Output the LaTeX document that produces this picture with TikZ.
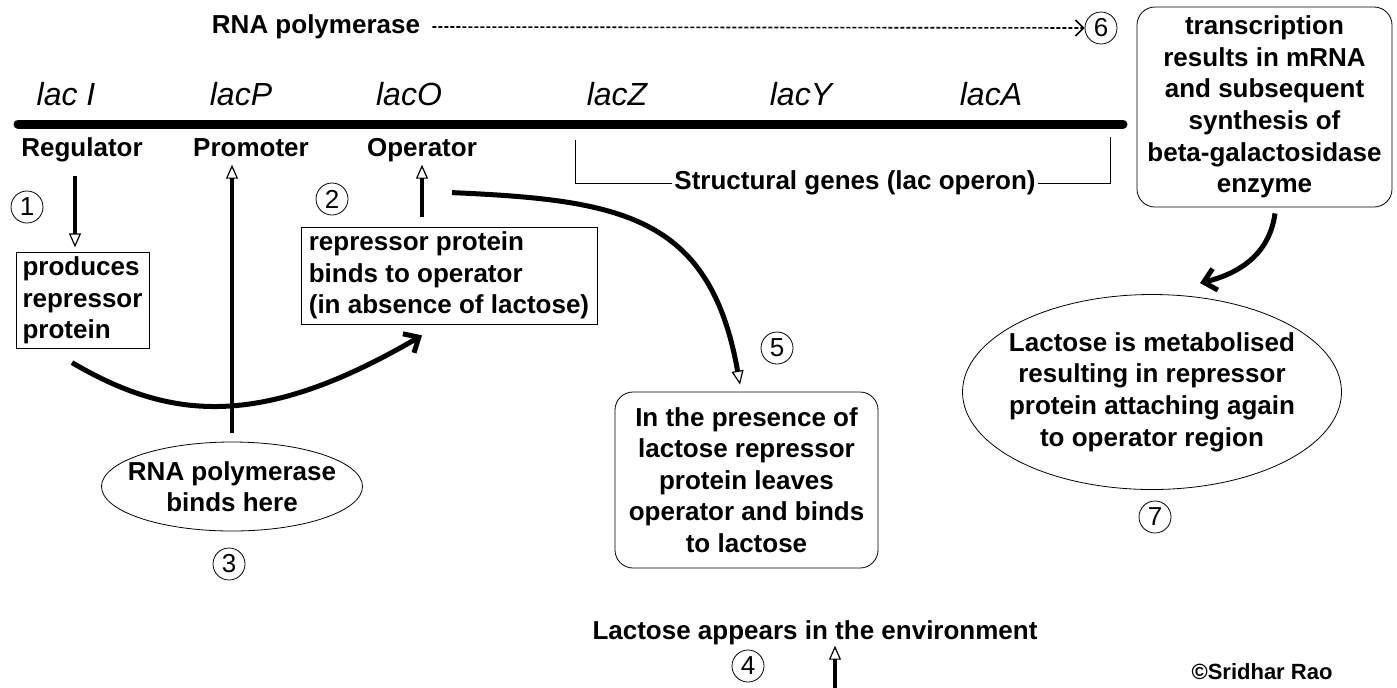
\documentclass[tikz,border=0pt]{standalone}
\usepackage{fontspec}
\setmainfont{Liberation Sans}
\usetikzlibrary{arrows.meta,shapes.geometric,positioning,calc}

\tikzset{
  num/.style={draw, circle, thin, inner sep=0pt, minimum size=16pt, font=\mdseries\fontsize{13}{13}\selectfont},
  gene/.style={font=\mdseries\itshape\fontsize{16}{16}\selectfont},
  label/.style={inner sep=1pt, text height=9.5pt, text depth=2.8pt},
  sqbox/.style={draw, thin, rectangle, align=left, inner sep=2pt},
  rbox/.style={draw, thin, rounded corners=9pt, align=center, inner sep=2pt},
  oval/.style={draw, thin, ellipse, align=center, inner ysep=0pt},
  uparrow/.style={line width=2pt, -{Triangle[open, line width=0.6pt, length=7pt, width=6pt]}},
  bentarrow/.style={line width=2.5pt, -{Straight Barb[length=6pt, width=11pt]}}
}

\begin{document}
\begin{tikzpicture}[x=0.5pt, y=-0.5pt, font=\bfseries\fontsize{13}{15.8}\selectfont]
    \useasboundingbox (0,0) rectangle (1397,687);

    \node[label] (rnaptext) at (316,27) {RNA polymerase};
    \node[num] (n6) at (1101,28) {6};
    \draw[line width=0.8pt, dash pattern=on 2pt off 1pt, -{Straight Barb[length=4pt, width=8pt]}] ($(rnaptext.east)+(10,0)$) -- (n6.west);

    \draw[line width=4.5pt, line cap=round] (18,124) -- (1123,124);

    \node[gene] (laci) at (66,94) {lac I};
    \node[gene] (lacp) at (241,94) {lacP};
    \node[gene] (laco) at (409,94) {lacO};
    \node[gene] (lacz) at (617,94) {lacZ};
    \node[gene] (lacy) at (801,94) {lacY};
    \node[gene] (laca) at (991,94) {lacA};

    \node[label] (reg) at (82,150) {Regulator};
    \node[label] (prom) at (251,150) {Promoter};
    \node[label] (op) at (422,150) {Operator};
    \node[label] (struct) at (855,183) {Structural genes (lac operon)};
    \draw (575,140) |- (struct.west);
    \draw (struct.east) -| (1110,137);

    \node[num] (n1) at (27,207) {1};
    \node[num] (n2) at (332,199) {2};
    \node[num] (n3) at (229,564) {3};
    \node[num] (n4) at (748,666) {4};
    \node[num] (n5) at (777,348) {5};
    \node[num] (n7) at (1155,517) {7};

    \node[sqbox, minimum width=66.5pt, minimum height=47.5pt] (prod) at (82.5,300.5) {produces\\repressor\\protein};
    \node[sqbox, minimum width=148pt, minimum height=48.5pt] (rep) at (449,275.5) {repressor protein\\binds to operator\\(in absence of lactose)};
    \node[oval, inner xsep=-6pt, minimum width=130.5pt, minimum height=44.5pt] (rnap) at (232,486.5) {RNA polymerase\\binds here};
    \node[rbox, minimum width=131.5pt, minimum height=88pt] (pres) at (746.5,480) {In the presence of\\lactose repressor\\protein leaves\\operator and binds\\to lactose};
    \node[rbox, minimum width=127.5pt, minimum height=100pt] (trans) at (1264.5,107) {transcription\\results in mRNA\\and subsequent\\synthesis of\\beta-galactosidase\\enzyme};
    \node[oval, inner xsep=-7pt, minimum width=189.5pt, minimum height=97.5pt] (meta) at (1152,392) {Lactose is metabolised\\resulting in repressor\\protein attaching again\\to operator region};

    \node[label] (lact) at (815,633) {Lactose appears in the environment};
    \node[label, font=\bfseries\fontsize{11}{12}\selectfont] (copy) at (1262,673) {\textcopyright Sridhar Rao};

    \draw[uparrow] ($(reg.south)+(-7,11)$) -- ($(reg.south |- prod.north)+(-7,-5)$);
    \draw[uparrow] ($(rnap.north)+(0,-9)$) -- (rnap.north |- prom.south);
    \draw[uparrow] ($(op.south |- rep.north)+(0,-10)$) -- (op.south);
    \draw[uparrow] ($(lact.south)+(20,42)$) -- ($(lact.south)+(20,-2)$);

    \draw[bentarrow] ($(prod.south)+(-10.5,14)$) .. controls (170,420) and (260,430) .. ($(rep.south)+(-27,11)$);
    \draw[line width=2.5pt, -{Triangle[open, line width=0.6pt, length=7pt, width=6pt]}] ($(rep.north)+(3,-34)$) .. controls (620,200) and (710,215) .. ($(pres.north)+(-6.5,-7)$);
    \draw[bentarrow] ($(trans.south)+(10.5,6)$) .. controls (1270,250) and (1245,272) .. ($(meta.north)+(48,-11)$);
\end{tikzpicture}
\end{document}
